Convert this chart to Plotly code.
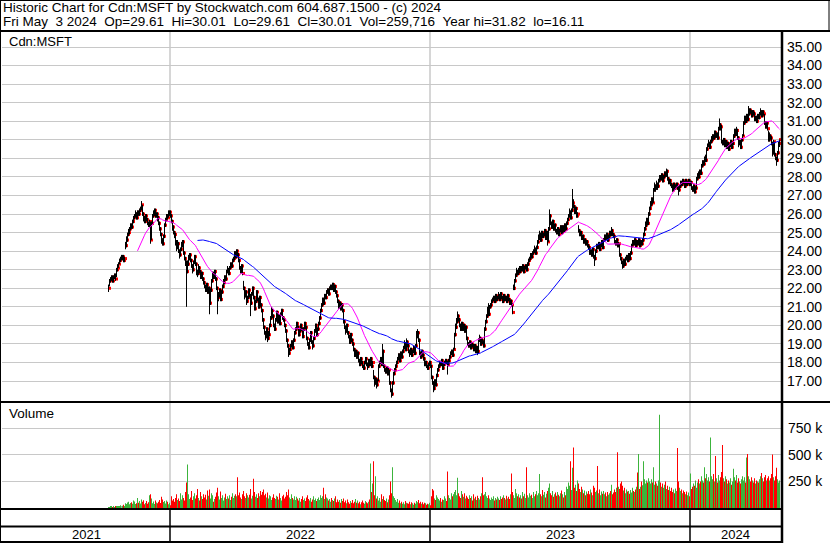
import numpy as np
import pandas as pd
import plotly.graph_objects as go

# ---------------- data ----------------
START_DATE = "2021-10-07"
END_DATE = "2024-05-03"

CLOSE = [
    22.0, 22.4, 22.5, 22.6, 22.4, 22.6, 22.7, 22.5, 23.0, 23.1,
    23.3, 23.5, 23.6, 23.6, 23.7, 23.5, 23.6, 24.3, 24.6, 24.9,
    25.0, 25.2, 25.4, 25.3, 25.6, 25.8, 25.9, 26.0, 25.8, 26.1,
    26.0, 26.2, 26.3, 26.5, 26.0, 25.8, 25.6, 25.9, 25.7, 25.5,
    25.4, 25.6, 24.6, 25.5, 25.9, 26.0, 26.2, 25.9, 26.0, 25.8,
    25.5, 25.2, 24.9, 24.6, 24.4, 24.8, 25.4, 25.7, 25.9, 25.8,
    26.0, 26.1, 25.9, 25.6, 25.3, 25.0, 24.9, 24.5, 24.2, 24.4,
    24.0, 23.8, 24.1, 24.3, 24.5, 23.9, 23.6, 23.4, 22.9, 23.3,
    23.6, 23.8, 23.5, 23.2, 23.0, 23.4, 23.7, 23.3, 22.9, 22.8,
    23.1, 22.9, 22.6, 22.8, 22.5, 22.3, 22.1, 21.9, 22.2, 21.8,
    22.0, 21.2, 21.9, 22.4, 22.8, 22.6, 22.9, 22.5, 22.0, 21.5,
    21.6, 21.9, 21.4, 21.8, 22.1, 22.3, 22.6, 22.5, 22.9, 23.0,
    22.8, 23.1, 23.3, 23.2, 23.5, 23.6, 23.9, 23.7, 24.0, 23.8,
    23.5, 23.1, 22.9, 23.2, 22.8, 22.0, 21.6, 21.8, 21.3, 21.5,
    21.9, 21.6, 21.2, 21.7, 22.0, 21.5, 20.9, 21.3, 21.8, 21.4,
    21.0, 21.5, 21.1, 20.8, 20.3, 19.9, 19.6, 19.4, 19.8, 19.3,
    19.5, 20.0, 20.4, 20.8, 20.5, 20.0, 19.8, 20.3, 20.7, 20.2,
    20.5, 20.1, 20.6, 20.8, 20.4, 20.3, 20.0, 19.7, 19.2, 18.9,
    18.5, 18.7, 18.9, 19.1, 18.8, 19.2, 19.6, 19.8, 20.1, 19.9,
    19.5, 19.7, 20.0, 19.8, 19.4, 19.8, 20.1, 19.9, 19.3, 19.0,
    18.8, 19.2, 19.6, 19.1, 18.9, 19.3, 19.7, 20.0, 19.5, 19.8,
    20.1, 20.4, 20.8, 21.1, 21.4, 21.2, 21.6, 21.5, 21.8, 21.9,
    21.7, 22.0, 22.1, 22.0, 22.2, 21.9, 22.1, 21.8, 21.6, 21.3,
    21.0, 21.2, 20.9, 21.1, 20.8, 20.2, 19.9, 19.7, 20.0, 19.6,
    19.4, 19.1, 19.5, 19.2, 19.0, 18.7, 18.4, 18.6, 18.3, 18.5,
    18.1, 17.9, 18.2, 18.0, 17.8, 17.7, 18.0, 18.2, 17.9, 17.8,
    18.1, 17.9, 18.2, 17.8, 18.0, 17.2, 16.9, 17.1, 16.8, 17.0,
    17.8, 18.0, 18.2, 17.9, 18.6, 17.8, 17.6, 17.5, 17.7, 17.4,
    17.6, 16.9, 16.5, 16.3, 16.9, 17.4, 17.6, 17.8, 18.0, 18.2,
    18.4, 18.1, 18.5, 18.3, 18.6, 18.8, 19.0, 18.7, 19.1, 18.9,
    18.6, 18.5, 18.7, 18.4, 18.6, 18.8, 18.5, 18.9, 19.5, 19.6,
    19.2, 18.5, 18.3, 18.6, 18.4, 18.2, 17.9, 18.0, 17.8, 17.7,
    17.9, 18.0, 17.8, 17.2, 16.9, 16.6, 17.0, 16.8, 17.3, 17.6,
    17.8, 18.0, 17.9, 18.1, 17.7, 17.9, 18.0, 18.1, 18.0, 17.9,
    18.1, 18.3, 18.5, 18.6, 18.4, 18.7, 19.5, 19.9, 20.2, 20.5,
    20.3, 20.0, 19.8, 20.1, 19.8, 20.0, 19.7, 19.9, 19.3, 19.0,
    18.9, 19.1, 18.8, 19.0, 18.9, 18.7, 18.9, 18.6, 18.8, 18.6,
    19.2, 19.3, 19.0, 19.2, 19.1, 18.9, 19.8, 20.2, 20.5, 20.9,
    20.6, 21.0, 21.1, 21.3, 21.4, 21.5, 21.3, 21.6, 21.4, 21.5,
    21.6, 21.4, 21.7, 21.5, 21.3, 21.6, 21.4, 21.5, 21.3, 21.6,
    21.4, 21.2, 21.3, 21.1, 20.7, 22.0, 22.4, 22.7, 22.9, 22.8,
    23.0, 22.9, 23.1, 23.0, 23.2, 22.9, 23.1, 23.2, 23.0, 23.3,
    23.5, 23.6, 23.8, 23.7, 23.9, 24.0, 24.1, 23.9, 24.2, 24.5,
    24.7, 24.9, 24.6, 25.0, 24.8, 24.9, 25.1, 24.7, 25.0, 24.5,
    25.2, 25.9, 25.5, 25.3, 25.6, 25.2, 25.4, 25.1, 25.0, 25.2,
    24.9, 25.1, 25.3, 25.0, 25.3, 25.1, 25.4, 25.2, 25.5, 25.7,
    25.9, 26.1, 25.8, 26.2, 26.6, 26.4, 26.1, 26.3, 25.9, 26.0,
    25.1, 24.9, 25.0, 24.7, 24.8, 24.5, 24.6, 24.4, 24.5, 24.3,
    24.2, 23.9, 24.0, 23.8, 24.1, 23.7, 23.6, 24.0, 24.3, 24.2,
    24.4, 24.1, 24.3, 24.5, 24.2, 24.6, 24.8, 24.7, 24.9, 24.6,
    24.8, 25.0, 24.9, 25.1, 24.9, 24.8, 24.5, 24.4, 24.6, 24.3,
    24.4, 23.8, 23.6, 23.4, 23.2, 23.5, 23.3, 23.6, 23.7, 23.5,
    23.8, 23.6, 23.9, 24.3, 24.5, 24.4, 24.6, 24.3, 24.5, 24.4,
    24.6, 24.3, 24.5, 24.4, 24.6, 24.9, 25.2, 25.4, 25.7, 25.5,
    26.0, 26.3, 26.5, 26.8, 26.6, 27.3, 27.5, 27.4, 27.6, 27.5,
    27.8, 28.0, 27.9, 28.1, 27.8, 28.0, 28.2, 28.1, 28.3, 27.9,
    27.7, 27.8, 27.6, 27.5, 27.3, 27.6, 27.4, 27.5, 27.6, 27.4,
    27.3, 27.5, 27.7, 27.6, 27.8, 27.7, 27.5, 27.8, 27.6, 27.7,
    27.8, 27.6, 27.7, 27.4, 27.3, 27.5, 27.2, 27.4, 27.9, 28.1,
    28.0, 28.3, 28.2, 28.6, 28.8, 28.7, 29.0, 28.9, 29.5, 29.7,
    29.8, 29.6, 29.9, 30.0, 30.2, 30.1, 30.4, 30.2, 30.3, 30.1,
    30.6, 30.8, 30.7, 29.9, 29.8, 30.0, 29.7, 29.9, 29.6, 29.8,
    29.5, 29.7, 29.9, 29.6, 29.8, 30.2, 30.4, 30.3, 30.5, 30.1,
    29.8, 29.9, 29.6, 30.0, 30.2, 30.9, 31.2, 31.0, 31.3, 31.1,
    31.4, 31.6, 31.5, 31.3, 31.5, 31.4, 31.1, 31.2, 31.0, 31.3,
    31.2, 31.4, 31.5, 31.3, 31.5, 31.4, 30.9, 30.7, 30.9, 30.6,
    30.0, 30.2, 30.1, 29.8, 29.3, 29.9, 29.2, 29.0, 28.9, 29.3,
    29.8, 30.01,
]

HIGH = [
    22.2, 22.5, 22.6, 22.7, 22.7, 22.7, 22.8, 22.8, 23.1, 23.3,
    23.4, 23.6, 23.7, 23.8, 23.8, 23.8, 23.7, 24.5, 24.8, 25.0,
    25.2, 25.3, 25.5, 25.5, 25.7, 25.9, 26.0, 26.2, 26.1, 26.2,
    26.2, 26.3, 26.4, 26.7, 26.5, 26.1, 25.9, 26.0, 26.0, 25.8,
    25.6, 25.7, 25.6, 25.6, 26.0, 26.2, 26.3, 26.3, 26.1, 26.1,
    25.9, 25.6, 25.3, 25.0, 24.7, 24.9, 25.5, 25.8, 26.0, 26.0,
    26.2, 26.2, 26.2, 26.0, 25.7, 25.4, 25.1, 25.0, 24.6, 24.6,
    24.5, 24.1, 24.2, 24.5, 24.6, 24.6, 24.0, 23.7, 23.5, 23.5,
    23.8, 23.9, 23.9, 23.6, 23.3, 23.5, 23.8, 23.8, 23.4, 23.0,
    23.3, 23.2, 23.0, 22.9, 22.9, 22.6, 22.4, 22.2, 22.3, 22.3,
    22.1, 22.1, 22.0, 22.5, 22.9, 22.9, 23.0, 23.0, 22.6, 22.1,
    21.8, 22.0, 22.0, 21.9, 22.2, 22.5, 22.7, 22.7, 23.0, 23.2,
    23.1, 23.2, 23.4, 23.4, 23.6, 23.7, 24.0, 24.0, 24.1, 24.1,
    23.9, 23.6, 23.2, 23.3, 23.3, 22.4, 22.1, 21.9, 21.9, 21.6,
    22.0, 22.0, 21.7, 21.8, 22.1, 22.1, 21.6, 21.4, 21.9, 21.9,
    21.5, 21.6, 21.6, 21.2, 20.9, 20.4, 20.0, 19.7, 19.9, 19.9,
    19.7, 20.1, 20.5, 21.0, 20.9, 20.6, 20.1, 20.4, 20.8, 20.8,
    20.6, 20.6, 20.7, 20.9, 20.9, 20.5, 20.4, 20.1, 19.8, 19.3,
    19.0, 18.8, 19.0, 19.2, 19.2, 19.3, 19.7, 19.9, 20.2, 20.2,
    20.0, 19.8, 20.1, 20.1, 19.9, 19.9, 20.2, 20.2, 20.0, 19.4,
    19.1, 19.3, 19.7, 19.7, 19.2, 19.4, 19.8, 20.1, 20.1, 19.9,
    20.2, 20.5, 20.9, 21.2, 21.5, 21.5, 21.7, 21.7, 21.9, 22.0,
    22.0, 22.1, 22.2, 22.2, 22.3, 22.3, 22.2, 22.2, 21.9, 21.7,
    21.4, 21.3, 21.3, 21.2, 21.2, 20.9, 20.3, 20.0, 20.1, 20.1,
    19.7, 19.5, 19.6, 19.6, 19.3, 19.1, 18.8, 18.7, 18.7, 18.6,
    18.6, 18.2, 18.3, 18.3, 18.1, 17.9, 18.1, 18.3, 18.3, 18.0,
    18.2, 18.2, 18.3, 18.3, 18.1, 17.6, 17.3, 17.2, 17.2, 17.1,
    17.9, 18.1, 18.3, 18.3, 19.0, 18.7, 17.9, 17.7, 17.8, 17.8,
    17.7, 17.6, 17.0, 16.6, 17.0, 17.5, 17.7, 17.9, 18.1, 18.3,
    18.5, 18.5, 18.6, 18.6, 18.7, 18.9, 19.2, 19.1, 19.3, 19.2,
    19.0, 18.7, 18.8, 18.8, 18.7, 18.9, 18.9, 19.0, 19.7, 19.8,
    19.7, 19.3, 18.6, 18.7, 18.7, 18.5, 18.3, 18.1, 18.1, 17.9,
    18.0, 18.1, 18.1, 17.9, 17.3, 17.0, 17.1, 17.1, 17.4, 17.7,
    17.9, 18.1, 18.1, 18.2, 18.2, 18.0, 18.1, 18.2, 18.2, 18.1,
    18.2, 18.4, 18.6, 18.7, 18.7, 18.8, 19.6, 20.1, 20.4, 20.75,
    20.6, 20.4, 20.1, 20.2, 20.2, 20.1, 20.1, 20.0, 20.0, 19.4,
    19.1, 19.2, 19.2, 19.1, 19.1, 19.0, 19.0, 19.0, 18.9, 18.9,
    19.3, 19.5, 19.4, 19.3, 19.3, 19.2, 19.9, 20.3, 20.6, 21.0,
    21.2, 21.1, 21.2, 21.4, 21.5, 21.6, 21.6, 21.7, 21.7, 21.6,
    21.8, 21.7, 21.8, 21.8, 21.6, 21.7, 21.7, 21.6, 21.6, 21.7,
    21.7, 21.5, 21.4, 21.4, 21.2, 22.2, 22.5, 22.8, 23.1, 23.0,
    23.1, 23.2, 23.2, 23.2, 23.3, 23.3, 23.2, 23.3, 23.3, 23.4,
    23.6, 23.7, 23.9, 23.9, 24.0, 24.1, 24.3, 24.2, 24.3, 24.6,
    24.9, 25.1, 25.0, 25.1, 25.1, 25.0, 25.2, 25.2, 25.1, 25.1,
    25.3, 26.25, 26.0, 25.6, 25.7, 25.7, 25.5, 25.5, 25.2, 25.3,
    25.3, 25.2, 25.4, 25.4, 25.4, 25.4, 25.5, 25.5, 25.6, 25.8,
    26.0, 26.3, 26.2, 26.3, 27.35, 26.8, 26.5, 26.4, 26.4, 26.1,
    25.4, 25.2, 25.1, 25.1, 24.9, 24.9, 24.7, 24.7, 24.6, 24.6,
    24.4, 24.3, 24.1, 24.1, 24.2, 24.2, 23.8, 24.1, 24.4, 24.4,
    24.5, 24.5, 24.4, 24.6, 24.6, 24.7, 24.9, 24.9, 25.0, 25.0,
    24.9, 25.1, 25.1, 25.3, 25.2, 25.0, 24.9, 24.6, 24.7, 24.7,
    24.5, 24.4, 23.9, 23.7, 23.5, 23.6, 23.6, 23.7, 23.8, 23.8,
    23.9, 23.9, 24.0, 24.4, 24.6, 24.6, 24.7, 24.7, 24.6, 24.6,
    24.7, 24.7, 24.6, 24.6, 24.7, 25.0, 25.3, 25.6, 25.8, 25.8,
    26.1, 26.4, 26.7, 26.9, 26.9, 27.4, 27.7, 27.6, 27.8, 27.7,
    27.9, 28.1, 28.1, 28.2, 28.2, 28.1, 28.3, 28.3, 28.45, 28.4,
    28.0, 27.9, 27.9, 27.7, 27.6, 27.7, 27.7, 27.6, 27.7, 27.7,
    27.5, 27.6, 27.8, 27.8, 27.9, 27.9, 27.8, 27.9, 27.9, 27.8,
    27.9, 27.9, 27.8, 27.8, 27.5, 27.6, 27.6, 27.5, 28.0, 28.2,
    28.3, 28.4, 28.4, 28.7, 28.9, 28.9, 29.1, 29.2, 29.6, 29.8,
    30.0, 29.9, 30.0, 30.2, 30.3, 30.3, 30.5, 30.5, 30.4, 30.4,
    30.7, 31.15, 30.9, 30.8, 30.0, 30.1, 30.1, 30.0, 30.0, 29.9,
    29.9, 29.8, 30.0, 30.0, 29.9, 30.3, 30.6, 30.6, 30.7, 30.6,
    30.2, 30.0, 30.0, 30.1, 30.3, 31.0, 31.3, 31.3, 31.4, 31.4,
    31.82, 31.7, 31.7, 31.6, 31.6, 31.6, 31.5, 31.3, 31.3, 31.4,
    31.4, 31.5, 31.7, 31.6, 31.6, 31.6, 31.4, 31.0, 31.0, 31.0,
    30.5, 30.4, 30.3, 30.2, 29.9, 30.0, 29.9, 29.3, 29.1, 29.4,
    29.9, 30.01,
]

LOW = [
    21.8, 22.1, 22.3, 22.4, 22.3, 22.3, 22.5, 22.4, 22.6, 22.9,
    23.1, 23.3, 23.4, 23.5, 23.5, 23.4, 23.4, 24.1, 24.2, 24.5,
    24.8, 24.9, 25.1, 25.2, 25.2, 25.5, 25.7, 25.8, 25.7, 25.7,
    25.9, 25.9, 26.1, 26.2, 25.9, 25.6, 25.5, 25.5, 25.6, 25.4,
    25.3, 25.3, 24.4, 24.6, 25.4, 25.8, 25.9, 25.8, 25.8, 25.6,
    25.4, 25.1, 24.8, 24.4, 24.3, 24.3, 24.7, 25.3, 25.6, 25.7,
    25.8, 25.9, 25.8, 25.5, 25.1, 24.9, 24.7, 24.3, 24.0, 24.1,
    23.9, 23.6, 23.7, 24.0, 24.2, 23.8, 23.5, 23.2, 21.0, 22.8,
    23.2, 23.5, 23.4, 23.1, 22.8, 22.9, 23.3, 23.2, 22.7, 22.6,
    22.7, 22.8, 22.5, 22.5, 22.4, 22.2, 22.0, 21.8, 21.8, 21.7,
    21.7, 20.6, 21.1, 21.8, 22.3, 22.5, 22.5, 22.4, 21.9, 20.6,
    21.3, 21.5, 21.3, 21.3, 21.7, 22.0, 22.2, 22.4, 22.4, 22.8,
    22.7, 22.7, 23.0, 23.1, 23.1, 23.4, 23.5, 23.6, 23.6, 23.7,
    23.4, 23.0, 22.8, 22.8, 22.7, 21.9, 21.4, 21.5, 21.1, 21.2,
    21.4, 21.5, 20.5, 21.1, 21.6, 21.4, 20.8, 20.8, 21.2, 21.3,
    20.9, 20.9, 21.0, 20.7, 20.2, 19.8, 19.5, 19.2, 19.3, 19.1,
    19.2, 19.4, 19.9, 20.3, 20.4, 19.9, 19.7, 19.7, 20.2, 20.1,
    20.1, 20.0, 20.0, 20.5, 20.3, 20.2, 19.9, 19.6, 19.1, 18.8,
    18.3, 18.4, 18.6, 18.8, 18.7, 18.7, 19.1, 19.5, 19.7, 19.8,
    19.4, 19.4, 19.6, 19.7, 19.3, 19.3, 19.7, 19.8, 19.2, 18.9,
    18.7, 18.7, 19.1, 19.0, 18.7, 18.8, 19.2, 19.6, 19.4, 19.4,
    19.7, 20.0, 20.3, 20.7, 21.0, 21.1, 21.1, 21.4, 21.4, 21.7,
    21.6, 21.6, 21.9, 21.9, 21.9, 21.8, 21.8, 21.7, 21.5, 21.2,
    20.9, 20.9, 20.8, 20.8, 20.7, 20.1, 19.8, 19.5, 19.6, 19.5,
    19.3, 19.0, 19.0, 19.1, 18.9, 18.6, 18.3, 18.3, 18.2, 18.2,
    18.0, 17.8, 17.8, 17.9, 17.7, 17.6, 17.6, 17.9, 17.8, 17.6,
    17.7, 17.8, 17.8, 17.7, 17.7, 17.1, 16.7, 16.8, 16.6, 16.7,
    17.0, 17.7, 17.9, 17.8, 17.8, 17.7, 17.5, 17.4, 17.4, 17.3,
    17.3, 16.8, 16.4, 16.11, 16.2, 16.8, 17.3, 17.5, 17.7, 17.9,
    18.1, 18.0, 18.0, 18.2, 18.2, 18.5, 18.7, 18.6, 18.6, 18.8,
    18.5, 18.3, 18.4, 18.3, 18.3, 18.5, 18.4, 18.4, 18.8, 19.3,
    19.1, 18.4, 18.2, 18.2, 18.3, 18.1, 17.8, 17.8, 17.7, 17.6,
    17.6, 17.8, 17.7, 17.1, 16.8, 16.4, 16.5, 16.7, 16.7, 17.2,
    17.5, 17.7, 17.8, 17.8, 17.6, 17.6, 17.8, 17.9, 17.9, 17.35,
    17.8, 18.0, 18.2, 18.4, 18.3, 18.3, 18.7, 19.4, 19.8, 20.1,
    20.2, 19.9, 19.7, 19.7, 19.7, 19.7, 19.6, 19.6, 19.2, 18.9,
    18.8, 18.8, 18.7, 18.7, 18.8, 18.6, 18.6, 18.5, 18.5, 18.4,
    18.5, 19.1, 18.9, 18.9, 19.0, 18.8, 18.8, 19.7, 20.1, 20.4,
    20.5, 20.5, 20.9, 21.0, 21.2, 21.3, 21.2, 21.2, 21.3, 21.3,
    21.4, 21.3, 21.3, 21.4, 21.2, 21.2, 21.3, 21.3, 21.2, 21.2,
    21.3, 21.1, 21.1, 21.0, 20.6, 21.9, 21.9, 22.3, 22.6, 22.7,
    22.7, 22.8, 22.8, 22.9, 22.9, 22.8, 22.8, 23.0, 22.9, 22.9,
    23.2, 23.4, 23.5, 23.6, 23.6, 23.8, 23.9, 23.8, 23.8, 24.1,
    24.4, 24.6, 24.5, 24.5, 24.7, 24.7, 24.8, 24.6, 24.6, 24.3,
    24.5, 25.1, 25.4, 25.2, 25.2, 25.1, 25.1, 25.0, 24.9, 24.9,
    24.8, 24.8, 25.0, 24.9, 24.9, 25.0, 25.0, 25.1, 25.1, 25.4,
    25.6, 25.8, 25.7, 25.7, 26.1, 26.3, 26.0, 26.0, 25.8, 25.8,
    25.0, 24.8, 24.8, 24.6, 24.6, 24.4, 24.4, 24.3, 24.3, 24.2,
    24.1, 23.8, 23.8, 23.7, 23.7, 23.6, 23.2, 23.5, 23.9, 24.1,
    24.1, 24.0, 24.0, 24.2, 24.1, 24.1, 24.5, 24.6, 24.6, 24.5,
    24.5, 24.7, 24.8, 24.8, 24.8, 24.7, 24.4, 24.3, 24.3, 24.2,
    24.2, 23.7, 23.5, 23.3, 23.05, 23.1, 23.2, 23.2, 23.5, 23.4,
    23.4, 23.5, 23.5, 23.8, 24.2, 24.3, 24.3, 24.2, 24.2, 24.3,
    24.3, 24.2, 24.2, 24.3, 24.3, 24.5, 24.8, 25.1, 25.3, 25.4,
    25.4, 25.9, 26.2, 26.4, 26.5, 26.6, 27.2, 27.2, 27.3, 27.3,
    27.4, 27.7, 27.8, 27.8, 27.7, 27.7, 27.9, 28.0, 28.0, 27.8,
    27.6, 27.6, 27.5, 27.4, 27.2, 27.2, 27.3, 27.3, 27.4, 27.3,
    27.0, 27.2, 27.4, 27.5, 27.5, 27.6, 27.4, 27.4, 27.5, 27.5,
    27.6, 27.5, 27.5, 27.3, 27.2, 27.2, 27.1, 27.1, 27.3, 27.8,
    27.9, 27.9, 28.1, 28.1, 28.5, 28.6, 28.6, 28.8, 28.8, 29.4,
    29.6, 29.5, 29.5, 29.8, 29.9, 30.0, 30.0, 30.1, 30.1, 30.0,
    30.0, 30.5, 30.5, 29.8, 29.7, 29.7, 29.6, 29.6, 29.5, 29.5,
    29.4, 29.4, 29.6, 29.5, 29.5, 29.7, 30.1, 30.2, 30.2, 30.0,
    29.6, 29.7, 29.5, 29.5, 29.9, 30.2, 30.8, 30.9, 30.9, 31.0,
    31.0, 31.3, 31.4, 31.2, 31.2, 31.3, 31.0, 31.0, 30.9, 30.9,
    31.1, 31.1, 31.3, 31.2, 31.2, 31.3, 30.8, 30.6, 30.6, 30.5,
    29.9, 29.9, 30.0, 29.7, 29.1, 29.2, 29.1, 28.9, 28.6, 28.8,
    29.2, 29.61,
]

VOLUME_K = [
    8, 5, 12, 10, 6, 15, 9, 11, 18, 14,
    20, 16, 25, 12, 22, 30, 18, 45, 38, 52,
    60, 35, 48, 55, 40, 70, 62, 38, 45, 95,
    50, 65, 42, 80, 58, 72, 35, 48, 66, 40,
    55, 120, 130, 90, 45, 62, 38, 70, 52, 44,
    60, 75, 48, 105, 80, 56, 65, 42, 70, 58,
    35, 50, 25, 110, 70, 85, 60, 95, 130, 75,
    90, 65, 140, 80, 120, 95, 70, 150, 240, 410,
    130, 85, 100, 160, 75, 110, 140, 90, 120, 180,
    95, 70, 150, 110, 85, 130, 100, 125, 80, 165,
    115, 175, 90, 140, 120, 60, 85, 105, 145, 190,
    110, 80, 155, 95, 120, 70, 100, 135, 85, 110,
    90, 120, 75, 105, 140, 95, 115, 130, 110, 290,
    120, 145, 100, 85, 130, 160, 110, 95, 140, 120,
    100, 125, 180, 90, 115, 275, 150, 105, 130, 95,
    140, 110, 160, 125, 150, 175, 120, 135, 100, 145,
    90, 120, 110, 75, 100, 130, 95, 85, 115, 105,
    80, 140, 95, 70, 110, 125, 90, 105, 150, 120,
    175, 100, 85, 130, 95, 80, 110, 75, 105, 90,
    70, 95, 60, 85, 110, 75, 90, 65, 100, 120,
    85, 70, 95, 60, 80, 110, 75, 90, 65, 85,
    100, 75, 120, 95, 110, 190, 85, 130, 100, 90,
    70, 85, 60, 95, 75, 65, 90, 110, 55, 80,
    60, 75, 50, 85, 65, 90, 55, 70, 45, 80,
    55, 40, 65, 50, 75, 45, 60, 85, 50, 70,
    45, 60, 35, 55, 70, 50, 40, 65, 55, 45,
    60, 80, 420, 150, 230, 440, 120, 300, 90, 110,
    70, 95, 60, 130, 85, 110, 75, 65, 90, 55,
    80, 120, 250, 140, 385, 110, 95, 75, 60, 85,
    50, 70, 45, 60, 40, 55, 35, 65, 50, 45,
    40, 60, 35, 55, 45, 30, 50, 40, 65, 55,
    75, 45, 60, 40, 55, 35, 50, 45, 30, 40,
    35, 50, 25, 110, 180, 165, 90, 75, 120, 100,
    85, 70, 95, 60, 80, 75, 110, 90, 65, 345,
    120, 95, 80, 140, 110, 130, 150, 170, 120, 285,
    140, 110, 95, 160, 130, 105, 140, 90, 115, 100,
    85, 120, 95, 110, 70, 130, 90, 105, 75, 115,
    95, 80, 110, 140, 290, 120, 130, 150, 110, 95,
    120, 90, 75, 100, 85, 110, 70, 95, 80, 105,
    90, 75, 110, 85, 100, 120, 95, 80, 115, 90,
    105, 85, 130, 325, 150, 120, 95, 180, 140, 110,
    130, 100, 120, 90, 150, 110, 135, 95, 385, 120,
    100, 140, 115, 125, 95, 150, 110, 130, 160, 120,
    140, 320, 130, 110, 170, 125, 150, 100, 135, 160,
    190, 230, 140, 120, 160, 105, 130, 145, 115, 150,
    125, 110, 140, 165, 130, 100, 150, 120, 200, 180,
    240, 210, 440, 170, 380, 570, 190, 220, 160, 260,
    230, 180, 150, 200, 175, 140, 165, 120, 155, 135,
    160, 130, 175, 145, 120, 210, 190, 150, 165, 395,
    140, 175, 120, 155, 135, 160, 130, 145, 110, 150,
    125, 140, 160, 220, 130, 145, 175, 150, 190, 525,
    200, 180, 230, 250, 210, 165, 190, 140, 175, 155,
    160, 135, 170, 145, 190, 160, 150, 175, 200, 335,
    510, 180, 200, 250, 215, 440, 270, 230, 260, 240,
    280, 250, 230, 270, 240, 385, 220, 250, 230, 210,
    260, 880, 240, 200, 230, 190, 220, 250, 180, 210,
    170, 200, 160, 190, 150, 175, 140, 185, 160, 565,
    250, 190, 160, 175, 140, 165, 150, 130, 155, 120,
    145, 110, 325, 180, 200, 230, 210, 260, 190, 240,
    270, 230, 250, 300, 260, 240, 385, 280, 320, 260,
    290, 250, 665, 300, 270, 320, 250, 490, 280, 240,
    310, 260, 290, 340, 595, 280, 250, 300, 270, 230,
    260, 240, 280, 220, 250, 370, 290, 260, 310, 240,
    280, 250, 230, 270, 300, 260, 290, 240, 475, 510,
    300, 270, 250, 290, 260, 240, 280, 230, 260, 250,
    240, 270, 300, 330, 280, 250, 290, 310, 260, 280,
    300, 260, 280, 320, 505, 290, 260, 300, 380, 270,
    240, 260,
]

MA_SHORT = 30
MA_LONG = 90
PRICE_TICKS = list(range(17, 36))
VOL_TICKS = [250000, 500000, 750000]
VOL_TICK_TEXT = ["250 k", "500 k", "750 k"]
HEADER_1 = "Historic Chart for Cdn:MSFT by Stockwatch.com 604.687.1500 - (c) 2024"
HEADER_2 = "Fri May  3 2024  Op=29.61  Hi=30.01  Lo=29.61  Cl=30.01  Vol=259,716  Year hi=31.82  lo=16.11"
SYMBOL = "Cdn:MSFT"

# ---------------- build ----------------
dates = pd.bdate_range(START_DATE, END_DATE)
n = len(dates)
assert len(CLOSE) == n and len(HIGH) == n and len(LOW) == n and len(VOLUME_K) == n, (
    n, len(CLOSE), len(HIGH), len(LOW), len(VOLUME_K))

k = np.arange(n)
close = np.array(CLOSE)
high = np.array(HIGH)
low = np.array(LOW)
vol = np.array(VOLUME_K) * 1000

ma_s = pd.Series(close).rolling(MA_SHORT).mean()
ma_l = pd.Series(close).rolling(MA_LONG).mean()

W, H = 830, 543
LM, RM, TM, BM = 2, 48, 32, 35
PW, PH = W - LM - RM, H - TM - BM


def px_x(p):
    return (p - LM) / PW


def px_y(p):
    return (H - BM - p) / PH


X_RANGE = [-106.5, 673.5]
PRICE_TOP_PX, PRICE_BOT_PX = 32, 401
VOL_TOP_PX, VOL_BOT_PX = 403, 508

fig = go.Figure()

# red close ticks (partly hidden by the following day's stem)
fig.add_trace(go.Scatter(
    x=k + 1, y=close, mode="markers",
    marker=dict(symbol="square", size=3, color="#ff0000", line=dict(width=0)),
    hoverinfo="skip", showlegend=False))

# high-low stems
sx, sy = [], []
for i in range(n):
    sx += [k[i], k[i], None]
    sy += [low[i], high[i], None]
fig.add_trace(go.Scatter(x=sx, y=sy, mode="lines",
                         line=dict(color="#000000", width=1),
                         hoverinfo="skip", showlegend=False))

fig.add_trace(go.Scatter(x=k, y=ma_s, mode="lines",
                         line=dict(color="#ff00ff", width=1), showlegend=False))
fig.add_trace(go.Scatter(x=k, y=ma_l, mode="lines",
                         line=dict(color="#0000ff", width=1), showlegend=False))

# volume
prev = np.concatenate([[close[0] - 1], close[:-1]])
vcol = np.where(close > prev, "#3cb43c", np.where(close < prev, "#ff0000", "#a8a8a8"))
fig.add_trace(go.Bar(x=k, y=vol, width=1, marker=dict(color=vcol, line=dict(width=0)),
                     yaxis="y2", showlegend=False))

# year boundaries
years = sorted(set(dates.year))
bounds = []
for y in years[1:]:
    idx = int(np.argmax(dates.year == y))
    bounds.append(idx - 0.5)
edges = [X_RANGE[0]] + bounds + [X_RANGE[1] - 2]

shapes = []
for b in bounds:
    shapes.append(dict(type="line", xref="x", yref="paper", x0=b, x1=b,
                       y0=px_y(VOL_BOT_PX), y1=px_y(PRICE_TOP_PX),
                       line=dict(color="#c8c8c8", width=1.5), layer="below"))
    shapes.append(dict(type="line", xref="x", yref="paper", x0=b, x1=b,
                       y0=px_y(542), y1=px_y(VOL_BOT_PX),
                       line=dict(color="#000000", width=1.5)))


def hline(py, x0=0, x1=W, w=2):
    shapes.append(dict(type="line", xref="paper", yref="paper",
                       x0=px_x(x0), x1=px_x(x1), y0=px_y(py), y1=px_y(py),
                       line=dict(color="#000000", width=w)))


def vline(px, y0, y1, w=2):
    shapes.append(dict(type="line", xref="paper", yref="paper",
                       x0=px_x(px), x1=px_x(px), y0=px_y(y0), y1=px_y(y1),
                       line=dict(color="#000000", width=w)))


hline(31, 0, W)
hline(402, 0, W)
hline(509, 0, 783)
hline(526.5, 0, 783)
hline(542, 0, 783)
vline(782, 31, 543, 2.5)
vline(0.5, 0, 543, 1)
vline(829, 0, 31, 1)
hline(0.5, 0, W, 1)

annotations = []
F = "Liberation Sans, Arial, sans-serif"


def text(t, px, py, size=13.5, xanchor="left", xref="paper", x=None):
    annotations.append(dict(
        text=t.replace("  ", "\u00a0\u00a0"), showarrow=False,
        xref=xref, yref="paper",
        x=px_x(px) if x is None else x, y=px_y(py),
        xanchor=xanchor, yanchor="middle",
        font=dict(family=F, size=size, color="#000000")))


text(HEADER_1, 1, 8, size=13.5)
text(HEADER_2, 1, 21, size=13.5)
text(SYMBOL, 7, 41, size=13)
text("Volume", 7, 413, size=13.5)
for i, y in enumerate(years):
    mid = (edges[i] + edges[i + 1]) / 2
    text(str(y), 0, 534.5, size=13, xanchor="center", xref="x", x=mid)

fig.update_layout(
    width=W, height=H,
    margin=dict(l=LM, r=RM, t=TM, b=BM, pad=0),
    paper_bgcolor="#ffffff", plot_bgcolor="#ffffff",
    showlegend=False, hovermode=False,
    shapes=shapes, annotations=annotations,
    xaxis=dict(range=X_RANGE, showgrid=False, zeroline=False, showline=False,
               showticklabels=False, ticks="", anchor="y2", fixedrange=True),
    yaxis=dict(domain=[px_y(PRICE_BOT_PX), px_y(PRICE_TOP_PX)],
               range=[35 - (PRICE_BOT_PX - 47) / 18.56, 35 + (47 - PRICE_TOP_PX) / 18.56],
               side="right", tickmode="array", tickvals=PRICE_TICKS,
               ticktext=[f"{v:.2f}" for v in PRICE_TICKS],
               showgrid=True, gridcolor="#c8c8c8", gridwidth=1,
               zeroline=False, showline=False, ticks="", ticklabelstandoff=4,
               tickfont=dict(family=F, size=14, color="#000000"), fixedrange=True),
    yaxis2=dict(domain=[px_y(VOL_BOT_PX), px_y(VOL_TOP_PX)],
                range=[0, 990000], side="right", tickmode="array",
                tickvals=VOL_TICKS, ticktext=VOL_TICK_TEXT,
                showgrid=True, gridcolor="#c8c8c8", gridwidth=1,
                zeroline=False, showline=False, ticks="", ticklabelstandoff=5,
                tickfont=dict(family=F, size=14, color="#000000"), fixedrange=True),
)

fig.write_html("out.html", config={"displayModeBar": False},
               post_script="document.body.style.margin='0';"
                           "document.body.style.overflow='hidden';")
